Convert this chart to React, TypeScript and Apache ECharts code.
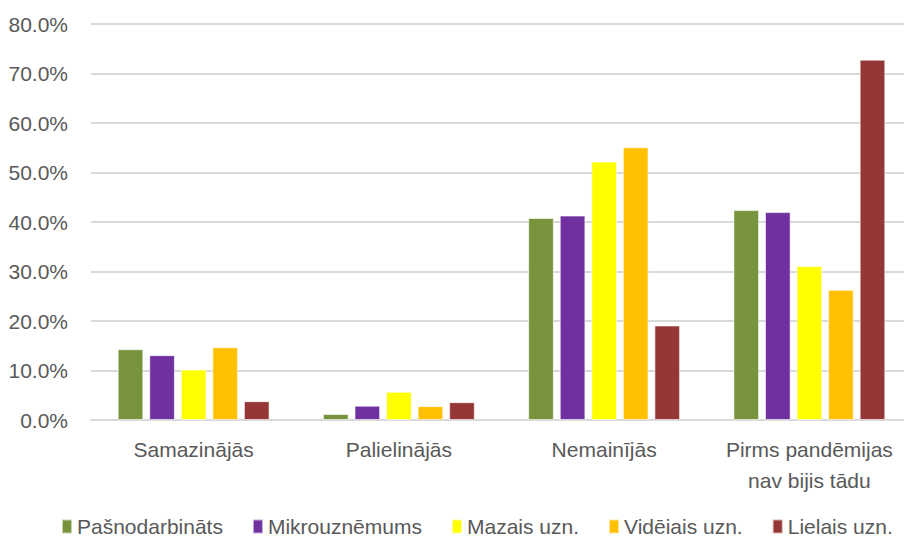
import React, { useEffect, useRef } from "react";
import * as echarts from "echarts";

const categories = ["Samazinājās", "Palielinājās", "Nemainījās", "Pirms pandēmijas\nnav bijis tādu"];
const seriesNames = ["Pašnodarbināts", "Mikrouznēmums", "Mazais uzn.", "Vidējais uzn.", "Lielais uzn."];
const pasnodarbinats = [14.3, 1.2, 40.8, 42.4];
const mikro = [13.1, 2.9, 41.3, 42.0];
const mazais = [10.2, 5.7, 52.2, 31.1];
const videjais = [14.7, 2.8, 55.1, 26.3];
const lielais = [3.8, 3.6, 19.1, 72.8];
const colors = ["#77933C", "#7030A0", "#FFFF00", "#FFC000", "#953735"];

export default function App() {
  const ref = useRef<HTMLDivElement>(null);
  useEffect(() => {
    if (!ref.current) return;
    const chart = echarts.init(ref.current, undefined, { renderer: "svg" });
    const data = [pasnodarbinats, mikro, mazais, videjais, lielais];
    const font = "Liberation Sans, Arial, sans-serif";
    chart.setOption({
      animation: false,
      backgroundColor: "#ffffff",
      textStyle: { fontFamily: font },
      grid: { left: 91, right: -11, top: 24, bottom: 122, containLabel: false },
      legend: {
        top: 516,
        left: 61,
        padding: 0,
        itemWidth: 10,
        itemHeight: 14,
        itemGap: 29,
        icon: "rect",
        textStyle: { color: "#595959", fontSize: 21, fontFamily: font },
        data: seriesNames,
      },
      xAxis: {
        type: "category",
        data: categories,
        axisLine: { show: true, lineStyle: { color: "#d9d9d9", width: 2 } },
        axisTick: { show: false },
        axisLabel: { color: "#595959", fontSize: 21, margin: 14, lineHeight: 31, interval: 0 },
      },
      yAxis: {
        type: "value",
        min: 0,
        max: 80,
        interval: 10,
        axisLine: { show: false },
        axisTick: { show: false },
        splitLine: { lineStyle: { color: "#d9d9d9", width: 2 } },
        axisLabel: {
          color: "#595959",
          fontSize: 21,
          margin: 23,
          formatter: (v: number) => v.toFixed(1) + "%",
        },
      },
      series: seriesNames.map((name, i) => ({
        name,
        type: "bar",
        data: data[i],
        barGap: "23%",
        barCategoryGap: "26%",
        itemStyle: { color: colors[i], borderColor: "rgba(255,255,255,0.6)", borderWidth: 1 },
      })),
    });
    return () => chart.dispose();
  }, []);
  return <div ref={ref} style={{ width: 912, height: 542, margin: -8 }} />;
}
